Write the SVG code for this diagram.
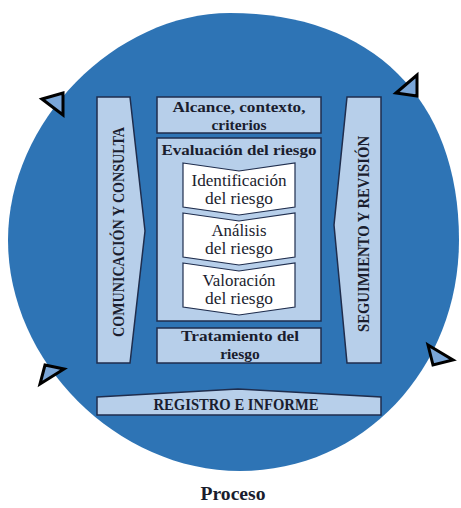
<svg xmlns="http://www.w3.org/2000/svg" width="461" height="508" viewBox="0 0 461 508">
  <style>
    .box { fill: #B7CFEA; stroke: #1F2D4D; stroke-width: 1.5; }
    .chev { fill: #FFFFFF; stroke: #1F2D4D; stroke-width: 1.2; }
    .hd { font-family: "Liberation Serif", "DejaVu Serif", serif; font-weight: bold; font-size: 15.5px; fill: #1A1D2E; text-anchor: middle; }
    .tx { font-family: "Liberation Serif", "DejaVu Serif", serif; font-size: 16px; fill: #1A1D2E; text-anchor: middle; }
    .vt { font-family: "Liberation Serif", "DejaVu Serif", serif; font-weight: bold; font-size: 16px; fill: #1A1D2E; text-anchor: middle; }
    .tri { fill: #7AA6D8; stroke: #000000; stroke-width: 3; stroke-linejoin: miter; }
  </style>
  <rect width="461" height="508" fill="#FFFFFF"/>
  <g id="circle">
    <path d="M230 13 C372 13 459 99 459 240 C459 369 363 471 240 471 C117 471 8 362 8 240 C8 122 115 13 230 13 Z" fill="#2E74B5"/>
  </g>
  <g id="connectors">
    <polygon class="tri" points="42,99 63,93 63,115"/>
    <polygon class="tri" points="396,93 417,75 417,96"/>
    <polygon class="tri" points="45,365 64,369 40,384"/>
    <polygon class="tri" points="428,345 453,360 433,365"/>
  </g>
  <g id="comunicacion">
    <polygon class="box" points="97,97 130,97 145,231 130,363 97,363"/>
    <text class="vt" transform="translate(124,232) rotate(-90)" textLength="210" lengthAdjust="spacingAndGlyphs">COMUNICACIÓN Y CONSULTA</text>
  </g>
  <g id="seguimiento">
    <polygon class="box" points="347,97 381,97 381,363 347,363 334,225"/>
    <text class="vt" transform="translate(369,234) rotate(-90)" textLength="196" lengthAdjust="spacingAndGlyphs">SEGUIMIENTO Y REVISIÓN</text>
  </g>
  <g id="alcance">
    <rect class="box" x="157" y="97" width="164" height="36"/>
    <text class="hd" x="239" y="112" textLength="133" lengthAdjust="spacingAndGlyphs">Alcance, contexto,</text>
    <text class="hd" x="239" y="130">criterios</text>
  </g>
  <g id="evaluacion">
    <rect class="box" x="157" y="138" width="164" height="183"/>
    <text class="hd" x="239" y="155" textLength="155" lengthAdjust="spacingAndGlyphs">Evaluación del riesgo</text>
  </g>
  <g id="identificacion">
    <polygon class="chev" points="183,163 239,171 295,163 295,207 239,215 183,207"/>
    <text class="tx" x="239" y="186" textLength="95" lengthAdjust="spacingAndGlyphs">Identificación</text>
    <text class="tx" x="239" y="204" textLength="68" lengthAdjust="spacingAndGlyphs">del riesgo</text>
  </g>
  <g id="analisis">
    <polygon class="chev" points="183,213 239,221 295,213 295,257 239,265 183,257"/>
    <text class="tx" x="239" y="236" textLength="55" lengthAdjust="spacingAndGlyphs">Análisis</text>
    <text class="tx" x="239" y="254" textLength="68" lengthAdjust="spacingAndGlyphs">del riesgo</text>
  </g>
  <g id="valoracion">
    <polygon class="chev" points="183,263 239,271 295,263 295,307 239,315 183,307"/>
    <text class="tx" x="239" y="286" textLength="73" lengthAdjust="spacingAndGlyphs">Valoración</text>
    <text class="tx" x="239" y="304" textLength="68" lengthAdjust="spacingAndGlyphs">del riesgo</text>
  </g>
  <g id="tratamiento">
    <rect class="box" x="157" y="328" width="164" height="35"/>
    <text class="hd" x="240" y="341" textLength="118" lengthAdjust="spacingAndGlyphs">Tratamiento del</text>
    <text class="hd" x="240" y="359">riesgo</text>
  </g>
  <g id="registro">
    <polygon class="box" points="97,397 238,389 381,397 381,415 97,415"/>
    <text class="vt" x="236" y="410" textLength="165" lengthAdjust="spacingAndGlyphs">REGISTRO E INFORME</text>
  </g>
  <g id="titulo">
    <text class="hd" x="233" y="500" style="font-size:18px" textLength="65" lengthAdjust="spacingAndGlyphs">Proceso</text>
  </g>
</svg>
